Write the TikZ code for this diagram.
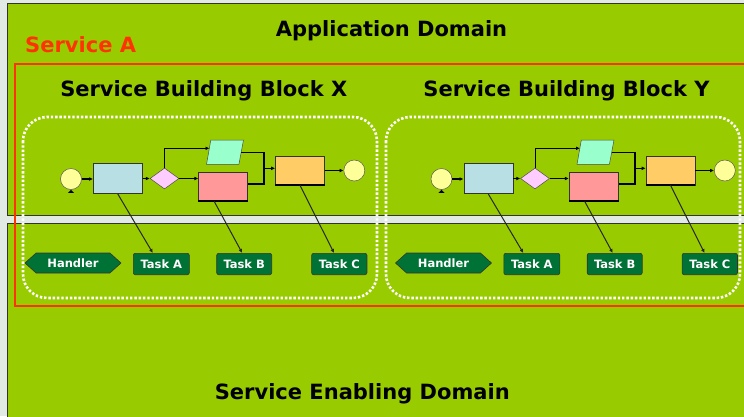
\documentclass[tikz,border=0pt]{standalone}
\usepackage{fontspec}
\setmainfont{DejaVu Sans}
\usetikzlibrary{shapes.geometric,shapes.symbols,arrows.meta}

\definecolor{paper}{HTML}{E2EAE6}
\definecolor{domaingreen}{HTML}{99CC00}
\definecolor{panelline}{HTML}{333333}
\definecolor{servicered}{HTML}{FF3300}
\definecolor{taskgreen}{HTML}{007236}
\definecolor{startyellow}{HTML}{FFFF99}
\definecolor{actblue}{HTML}{B8DFE3}
\definecolor{gatepink}{HTML}{FFCCFF}
\definecolor{datamint}{HTML}{99FFCC}
\definecolor{actrose}{HTML}{FF9999}
\definecolor{actorange}{HTML}{FFCC66}

\tikzset{
  panel/.style={fill=domaingreen, draw=panelline, line width=1pt},
  heading/.style={font=\bfseries\fontsize{21}{21}\selectfont, inner sep=0pt, anchor=base},
  blockframe/.style={draw=white, line width=2.6pt, dash pattern=on 2.4pt off 1.9pt, rounded corners=24pt},
  event/.style={circle, fill=startyellow, draw=gray!70!black, line width=0.5pt, minimum size=21pt, inner sep=0pt},
  activity/.style={rectangle, draw=panelline, line width=0.6pt, minimum width=49pt, inner sep=0pt},
  gateway/.style={diamond, fill=gatepink, draw=gray!60!black, line width=0.5pt, minimum width=29pt, minimum height=21pt, inner sep=0pt},
  dataframe/.style={rectangle, minimum width=32pt, minimum height=24pt, inner sep=0pt},
  datafill/.style={fill=datamint, draw=gray!60!black, line width=0.5pt},
  taskbox/.style={rectangle, rounded corners=2pt, fill=taskgreen, draw=panelline, line width=0.6pt, minimum height=21.4pt, inner sep=0pt, text=white, font=\bfseries\fontsize{11.5}{11.5}\selectfont},
  handlerbox/.style={signal, signal to=east and west, signal pointer angle=84, fill=taskgreen, draw=panelline, line width=0.6pt, minimum width=96pt, minimum height=20pt, inner sep=0pt, text=white, font=\bfseries\fontsize{11.5}{11.5}\selectfont},
  flow/.style={draw=black, line width=1pt, -{Latex[length=4pt,width=3.8pt]}},
  link/.style={draw=black!85, line width=1pt, -{Latex[length=4pt,width=3.8pt]}},
}

% One service building block: process flow plus its task row
\newcommand\flowblock[2]{%
  \begin{scope}[xshift=#2pt]
    \node[event] (#1start) at (71,179) {};
    \fill (#1start.south) ++(-3.2,3.2) -- ++(6.4,0) -- (#1start.south) -- cycle;
    \node[activity, fill=actblue, minimum height=30pt] (#1prep) at (117.8,178.7) {};
    \node[gateway] (#1gate) at (164.5,178.5) {};
    % slanted data object
    \node[dataframe] (#1data) at (225,152.2) {};
    \filldraw[datafill] ([xshift=-2.3pt]#1data.south west) -- ([xshift=-2.3pt]#1data.south east)
      -- ([xshift=2.3pt]#1data.north east) -- ([xshift=2pt]#1data.north west) -- cycle;
    \node[activity, fill=actrose, minimum height=28.7pt] (#1work) at (223.2,186.7) {};
    \draw[line width=2pt] (#1work.south west) -- (#1work.south east);
    \node[activity, fill=actorange, minimum height=28.7pt] (#1final) at (300,170.7) {};
    \draw[line width=2pt] (#1final.south west) -- (#1final.south east);
    \node[event] (#1end) at (354.3,170.5) {};
    \coordinate (#1din) at (209.5,148.3);
    \coordinate (#1mtop) at (264,152.2);
    \coordinate (#1mid) at (264,168.3);
    \coordinate (#1mbot) at (264,184.3);
    % sequence flow
    \draw[flow, line width=1.8pt] (#1start.east) -- (#1prep.west |- #1start.east);
    \draw[flow] (#1prep.east |- #1gate.west) -- (#1gate.west);
    \draw[flow] (#1gate.north) |- (#1din);
    \draw[flow] (#1gate.east) -- (#1work.west |- #1gate.east);
    \draw[line width=1pt] (#1data.east) -- (#1mtop);
    \draw[line width=2pt] (#1mtop) -- (#1mbot) -- (#1work.east |- #1mbot);
    \draw[flow] (#1mid) -- (#1final.west |- #1mid);
    \draw[flow] (#1final.east |- #1end.west) -- (#1end.west);
    % task row
    \node[handlerbox] (#1handler) at (73,263) {Handler};
    \node[taskbox, minimum width=56pt] (#1taskA) at (161.3,264) {Task A};
    \node[taskbox, minimum width=55pt] (#1taskB) at (244.2,264) {Task B};
    \node[taskbox, minimum width=55.3pt] (#1taskC) at (339.3,264) {Task C};
    \draw[link] (#1prep.south) -- ([xshift=-8.5pt]#1taskA.north);
    \draw[link] ([xshift=-9pt]#1work.south) -- ([xshift=-2pt]#1taskB.north);
    \draw[link] (#1final.south) -- ([xshift=-5.3pt]#1taskC.north);
  \end{scope}%
}

\begin{document}
\begin{tikzpicture}[x=1pt, y=-1pt]
  \useasboundingbox (0,0) rectangle (744,416);
  \fill[paper] (0,0) rectangle (744,416);

  % domains
  \draw[panel] (7,3) rectangle (770,215);
  \draw[panel] (7,223) rectangle (770,440);
  \node[heading] (appdomain) at (391.5,36.7) {Application Domain};
  \node[heading] (enabling) at (362.3,399.3) {Service Enabling Domain};

  % service boundary
  \draw[servicered, line width=2.6pt] (15,64) rectangle (780,306);
  \node[heading, anchor=base west, text=servicered] (servicea) at (25,52.3) {Service A};

  % building blocks
  \draw[blockframe] (23,117) rectangle (377,298);
  \draw[blockframe] (386,117) rectangle (740,298);
  \node[heading] (blockx) at (203.8,96.7) {Service Building Block X};
  \node[heading] (blocky) at (566.5,96.7) {Service Building Block Y};

  \flowblock{x}{0}
  \flowblock{y}{370.5}
\end{tikzpicture}
\end{document}
